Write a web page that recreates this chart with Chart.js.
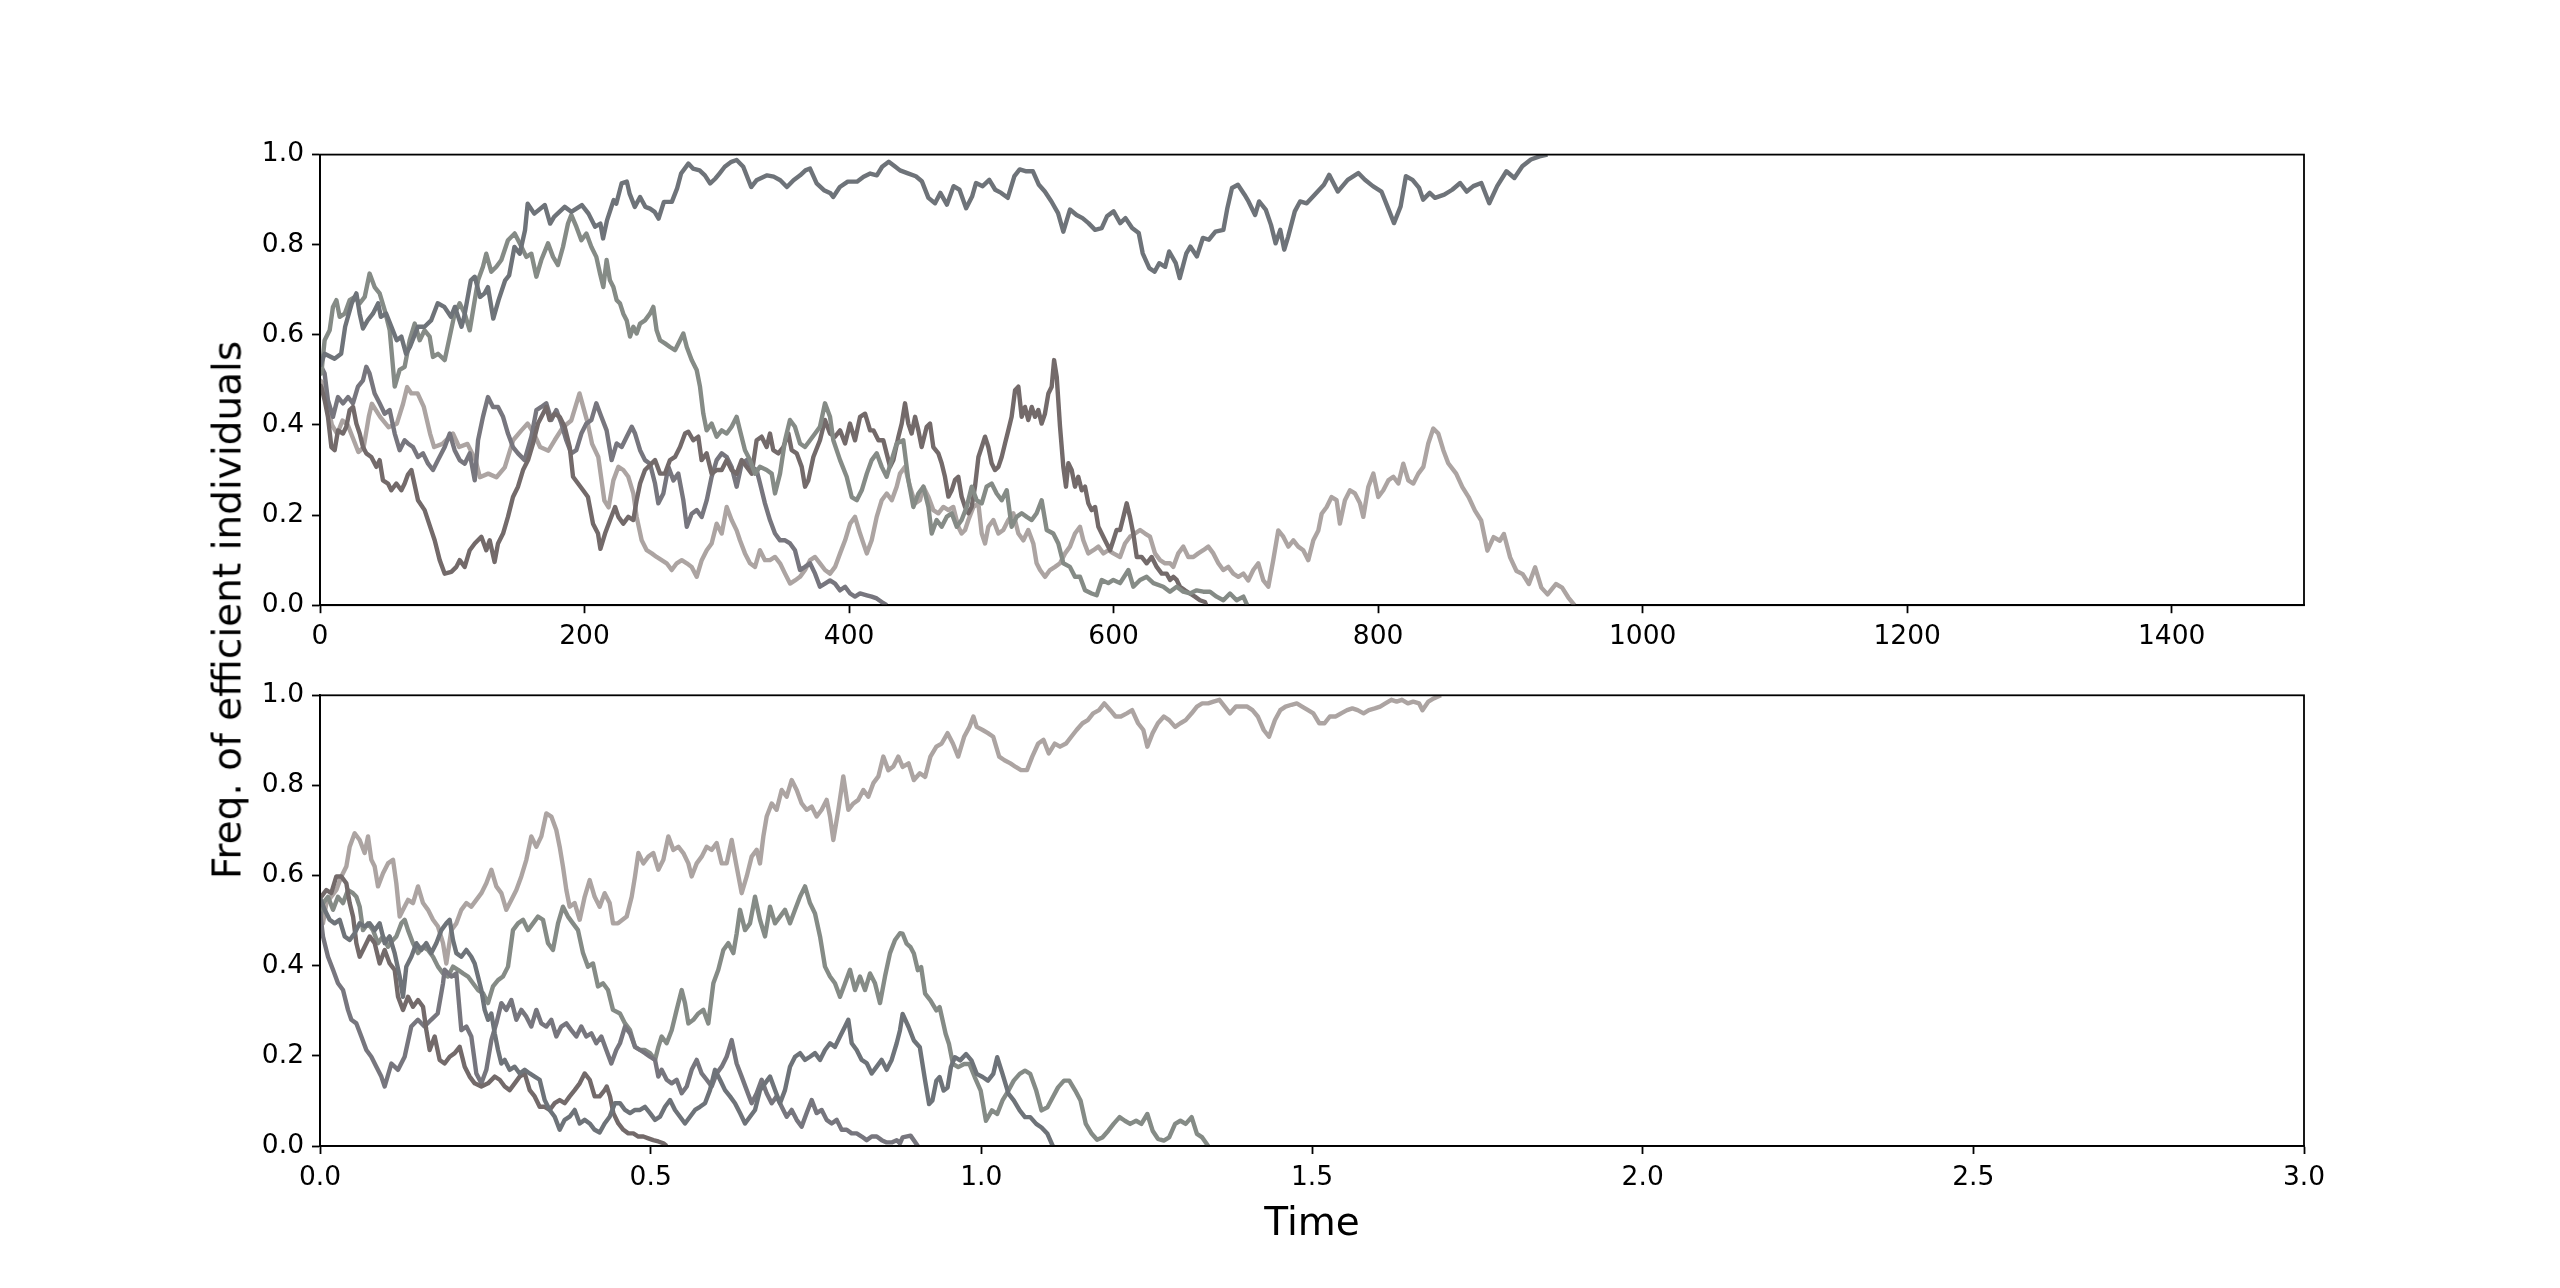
<!DOCTYPE html>
<html>
<head>
<meta charset="utf-8">
<script src="https://cdn.jsdelivr.net/npm/chart.js@4.4.0/dist/chart.umd.min.js"></script>
<style>
html, body { margin: 0; padding: 0; background: #fff; }
body { width: 2560px; height: 1288px; position: relative; overflow: hidden; }
canvas { position: absolute; left: 0; }
#top { top: 0; }
#bottom { top: 670px; }
#ylab {
    position: absolute; left: 227px; top: 610px;
    transform: translate(-50%, -50%) rotate(-90deg);
    font-family: 'DejaVu Sans'; font-size: 39px; line-height: 1; white-space: nowrap; color: #000;
}
</style>
</head>
<body>
<canvas id="top" width="2560" height="670"></canvas>
<canvas id="bottom" width="2560" height="618"></canvas>
<div id="ylab">Freq. of efficient individuals</div>
<script>
// ticks
const yTicks = [0, 0.2, 0.4, 0.6, 0.8, 1.0]
const yLabels = ['0.0', '0.2', '0.4', '0.6', '0.8', '1.0']
const topXTicks = [0, 200, 400, 600, 800, 1000, 1200, 1400]
const topXLabels = ['0', '200', '400', '600', '800', '1000', '1200', '1400']
const botXTicks = [0, 0.5, 1.0, 1.5, 2.0, 2.5, 3.0]
const botXLabels = ['0.0', '0.5', '1.0', '1.5', '2.0', '2.5', '3.0']

// top panel, [time, freq]
const topSlate = [[0,.53],[3.5,.558],[11,.547],[16,.558],[19,.618],[24,.670],[27.5,.692],[30,.647],[32.5,.614],[36,.632],[40,.647],[44,.670],[46,.640],[50,.647],[54,.618],[58,.588],[61.5,.596],[65,.558],[68,.573],[72,.603],[74,.618],[79,.618],[84,.632],[89,.670],[94,.662],[99,.640],[102,.662],[107,.618],[109,.640],[114,.721],[117,.729],[121,.684],[124.5,.692],[127,.706],[131,.636],[135,.677],[140,.721],[143,.732],[147,.795],[151,.780],[155,.832],[157,.891],[162,.869],[170,.888],[174,.847],[177,.862],[185,.884],[190,.873],[198,.888],[203,.869],[208,.840],
[212,.847],[214,.814],[217,.854],[222,.899],[224,.891],[228,.936],[232,.940],[234,.914],[238,.884],[242,.906],[246,.884],[249.5,.880],[253,.873],[256,.858],[260,.895],[266,.895],[270,.925],[273,.958],[278.5,.980],[282,.969],[287,.965],[291,.954],[295,.936],[299,.947],[302,.958],[306,.973],[311,.984],[315,.988],[320,.973],[324,.943],[326,.928],[330,.943],[338,.954],[343,.951],[348,.943],[353,.928],[358,.943],[363,.954],[367,.965],[370.5,.969],[375.5,.936],[381,.921],[386,.914],[388,.906],[393,.928],[399,.940],[406,.940],[411,.951],[416,.958],[421,.954],[425,.973],[430,.984],[435,.973],[438.5,.965],
[444,.959],[450.5,.952],[455,.941],[460,.904],[465,.892],[469,.915],[474,.889],[479,.930],[483.5,.922],
[488.5,.881],[493,.907],[496,.937],[501,.930],[506,.944],[510.5,.922],[515,.915],[520,.904],[525,.952],[529,.967],[534,.963],[539,.963],[543.5,.933],[548,.918],[553,.896],[558,.870],[562,.829],[567,.878],[572,.866],[576.5,.859],[581,.848],[586,.833],[591,.837],[595,.863],[600,.874],[605,.848],[609,.859],[614,.837],[619,.826],[622,.781],[627,.748],[631,.740],[634.5,.759],[639,.751],[642,.785],[647,.759],[650,.726],[655,.781],[658,.796],[663,.774],[667.5,.815],[672,.811],[677,.829],[683,.833],[686,.881],[689.5,.926],[694,.933],[699,.911],[702,.896],[707,.866],[710,.896],[715,.878],[719,.844],[722.5,.803],[726,.833],[729,.789],[732,.818],[737,.874],[741,.896],[746,.892],[752,.911],[759,.933],[763,.955],[769.5,.918],[777,.944],[785,.959],[790,.944],[796,.930],[802.5,.918],[807,.885],[812,.848],[817,.885],[821,.952],[826,.944],[831,.926],[834,.900],[839,.915],[843,.904],[850,.911],[856,.922],[862,.937],[867,.918],[872,.930],[878,.937],[884,.892],[890,.930],[897,.963],[903,.948],[909,.974],[915.5,.989],[922,.996],[928,1]]

const topGreen = [[0,.53],[1,.514],[3.5,.588],[7.3,.610],[9.8,.662],[12.4,.677],[14.9,.640],[18.7,.647],[22.4,.677],[26.2,.684],[30,.670],[33.8,.684],[37.5,.736],[41.3,.706],[45.1,.692],[48.9,.655],[52.7,.610],[56.5,.485],[60.2,.522],[64,.529],[67.8,.588],[71.6,.625],[75.4,.588],[79.1,.610],[82.9,.596],[85.4,.551],[89.2,.558],[94.3,.544],[98.1,.596],[101.8,.647],[105.6,.670],[109.4,.647],[113.2,.610],[117,.677],[119.5,.721],[123.2,.751],[125.7,.780],[129.5,.740],[133.3,.751],[137.1,.766],[142.1,.810],[147.2,.825],[151,.803],[156,.773],[159.8,.780],[163.6,.729],[167.3,.766],[172.4,.803],[176.2,.773],[179.9,.755],[183.7,.795],[187.5,.847],[190,.866],[193.8,.840],[197.6,.810],[201.4,.825],[205.2,.795],[208.9,.773],
[211.7,.736],[214.2,.706],[216.7,.766],[219.2,.721],[221.8,.706],[224.3,.677],[226.8,.670],[229.3,.647],[231.9,.632],[234.4,.596],[236.9,.618],[239.4,.603],[242,.625],[245.7,.632],[249.5,.647],[252,.662],[254.5,.610],[257.1,.588],[260.8,.581],[264.6,.573],[268.4,.566],[272.2,.588],[274.7,.603],[277.3,.573],[281,.544],[284.8,.522],[287.3,.485],[289.8,.425],[292.3,.388],[296.1,.403],[299.9,.374],[303.7,.388],[307.5,.381],[311.2,.396],[315,.418],[317.5,.388],[321.3,.344],[325.1,.322],[328.9,.292],[332.6,.307],[337.7,.300],[341.5,.292],[344,.248],[347.8,.292],[351.6,.366],[355.3,.411],[359.1,.396],[362.9,.359],[366.7,.351],[370.5,.366],[374.3,.381],[378,.396],[381.8,.448],[385.6,.418],[388.1,.366],[393.2,.322],[398.2,.285],[402,.240],[405.8,.233],[409.6,.255],[413.4,.292],[417.1,.322],[420.9,.337],[424.7,.307],[428.4,.285],[432.2,.322],[436,.359],
[441,.366],[444.8,.278],[448.6,.218],[452.4,.248],[456.2,.263],[460,.218],[462.5,.159],[466.2,.189],[470,.174],[473.8,.196],[477.6,.204],[481.4,.174],[485.1,.189],[488.9,.218],[492.7,.263],[496.5,.233],[500.3,.226],[504,.263],[507.8,.270],[511.6,.248],[515.4,.233],[519.2,.255],[522.9,.174],[526.7,.196],[530.5,.204],[534.3,.196],[538.1,.189],[541.8,.204],[545.6,.233],[549.4,.167],[554.4,.159],[558.2,.137],[562,.093],[567,.085],[570.8,.063],[574.6,.063],[578.4,.033],[583.4,.026],[587.2,.022],[591,.056],[596,.049],[599.8,.056],[604.9,.049],[611.2,.078],[614.9,.041],[620,.056],[625,.063],[630.1,.049],
[637.6,.041],[642.6,.030],[647.7,.041],[652.7,.030],[657.7,.026],[662.8,.033],[667.8,.030],[672.9,.030],[677.9,.019],[683,.011],[688,.026],[693,.011],[698.1,.019],[701,0]]

const topBrown = [[0,.49],[1,.484],[3.5,.455],[6,.418],[8.6,.351],[11.1,.344],[13.6,.388],[17.4,.381],[19.9,.396],[22.4,.433],[25,.440],[27.5,.403],[30,.381],[32.5,.351],[35,.337],[38.8,.329],[42.6,.307],[45.1,.322],[47.6,.277],[51.4,.270],[53.9,.255],[57.7,.270],[61.5,.255],[64,.270],[66.5,.29],[69.1,.300],[74.1,.233],[79.1,.211],[84.2,.166],[86.7,.144],[90.5,.100],[94.3,.070],[99.3,.074],[103.1,.085],[105.6,.100],[109.4,.085],[113.2,.122],[117,.137],[122,.152],[125.7,.122],[128.3,.144],[132,.096],[134.6,.137],[138.4,.159],[142.1,.196],[145.9,.240],[149.7,.263],[153.5,.300],[157.3,.322],[161.1,.359],[164.8,.403],[168.6,.425],[171.1,.440],[173.6,.411],[177.4,.425],[181.2,.418],[185,.396],[188.8,.351],[191.3,.285],[195.1,.270],[198.9,.255],[202.6,.240],[206.4,.181],[210.2,.159],
[212,.125],[215.5,.159],[219.3,.189],[223.1,.218],[225.6,.196],[229.3,.181],[233.1,.196],[236.9,.189],[239.4,.233],[242,.270],[245.7,.300],[249.5,.311],[253.3,.322],[257.1,.292],[260.8,.292],[264.6,.322],[268.4,.329],[272.2,.351],[276,.381],[278.5,.385],[282.2,.366],[286,.374],[288.5,.322],[292.3,.337],[296.1,.292],[299.9,.300],[303.7,.300],[307.5,.322],[311.2,.300],[315,.292],[318.8,.322],[322.6,.307],[326.4,.292],[330.1,.366],[333.9,.374],[337.7,.351],[340.2,.381],[342.7,.344],[346.5,.337],[350.3,.351],[354.1,.381],[356.6,.344],[360.4,.337],[364.2,.307],[366.7,.263],[369.2,.277],[373,.329],[378,.366],[381.8,.411],[385.6,.381],[389.4,.374],[393.2,.388],[397,.359],[400.7,.403],[404.5,.366],[408.3,.418],[412.1,.425],[415.9,.388],[418.4,.388],[422.2,.366],
[425.9,.366],[428.4,.337],[431,.307],[433.5,.322],[437.3,.374],[439.8,.403],[442.3,.448],[444.8,.403],[447.3,.381],[449.9,.418],[452.4,.388],[454.9,.351],[458.7,.396],[461.2,.403],[463.7,.351],[467.5,.337],[470,.315],[472.5,.285],[475.1,.241],[477.6,.255],[480.1,.278],[482.6,.285],[485.1,.241],[487.7,.218],[490.2,.204],[492.7,.218],[495.2,.263],[497.8,.329],[500.3,.351],[502.8,.374],[505.3,.351],[507.8,.315],[510.3,.300],[512.9,.307],[515.4,.329],[517.9,.359],[520.4,.388],[522.9,.418],[525.5,.477],[528,.485],[530.5,.418],[533,.440],[535.5,.411],[538.1,.440],[540.6,.418],[543.1,.433],[545.6,.403],[548.1,.425],[550.7,.470],[553.2,.485],[555,.544],[557,.507],[559.5,.396],[562,.307],[564,.263],[565.8,.315],[568.3,.300],[570.8,.263],[573.3,.285],[575.9,.255],[578.4,.263],[580.9,.226],[583.4,.211],[586,.218],[588.5,.174],[591,.159],[593.5,.144],[597.3,.122],[599.8,.144],[602.3,.167],[604.9,.167],[607.4,.196],[609.9,.226],[612.4,.196],[614.9,.159],[617.5,.107],[621.2,.107],[625,.093],[628.8,.107],[632.6,.085],[636.4,.070],[640.1,.070],[642.7,.056],[645.2,.063],[647.7,.056],[650.2,.041],[654,.033],[657.7,.026],[661.5,.019],[665.3,.011],[669.1,.007],[670,0]]

const topPink = [[0,.50],[3,.49],[6,.44],[9,.40],[13,.38],[17,.41],[21,.40],[25,.37],[29,.34],[33,.35],[37,.42],[39.2,.447],[45.5,.418],[51.8,.395],[58.1,.403],[62.8,.447],[65.9,.484],[69.1,.470],[73.8,.470],[78.5,.440],[83.2,.381],[86.3,.351],[92.6,.358],[100.5,.381],[105.2,.351],[111.5,.358],[117.7,.321],[120.9,.284],[127.2,.292],[133.4,.284],[139.7,.306],[146,.366],[152.3,.388],[157,.403],[161.7,.381],[166.4,.351],[172.7,.343],[177.4,.366],[183.7,.395],[190,.410],[196.2,.470],[202.5,.403],[205.7,.358],[210.4,.329],
[215,.232],[218.2,.217],[221.8,.277],[225.6,.307],[229.3,.300],[233.1,.285],[236.9,.248],[239.4,.196],[243.2,.144],[247,.122],[250.8,.115],[254.5,.107],[258.3,.100],[262.1,.093],[265.9,.078],[269.7,.093],[273.5,.100],[277.3,.093],[281,.085],[284.8,.063],[288.6,.100],[292.4,.122],[296.1,.137],[299.9,.181],[303.7,.159],[307.5,.218],[311.2,.189],[315,.166],[317.5,.144],[321.3,.115],[325.1,.093],[328.9,.085],[332.6,.122],[336.4,.100],[340.2,.100],[344,.107],[347.8,.093],[351.6,.070],[355.4,.048],[359.1,.055],[362.9,.063],[366.7,.078],[370.5,.100],[374.3,.107],[378,.093],[381.8,.078],[385.6,.070],[389.4,.085],[393.2,.115],[397,.144],[400.8,.181],[404.5,.196],[408.3,.159],[413.4,.115],[417.1,.144],[420.9,.196],[424.7,.233],[428.5,.248],[432.3,.233],[436,.263],[438.5,.292],
[442.3,.307],[446.1,.263],[449.9,.226],[453.6,.233],[456.2,.263],[459.9,.241],[463.7,.211],[467.5,.204],[471.3,.218],[475.1,.211],[478.8,.218],[482.6,.174],[485.1,.159],[487.7,.167],[490.2,.189],[494,.218],[497.7,.226],[500.3,.159],[502.8,.137],[505.3,.174],[509.1,.189],[512.9,.159],[516.6,.167],[520.4,.189],[524.2,.204],[528,.159],[531.8,.144],[535.5,.167],[539.3,.137],[541.8,.093],[544.4,.078],[548.1,.063],[551.9,.078],[555.7,.085],[559.5,.093],[563.3,.115],[567,.130],[570.8,.159],[574.6,.174],[577.1,.144],[580.9,.115],[584.7,.122],[588.5,.130],[592.3,.115],[596,.122],[599.8,.115],[604.9,.107],[608.6,.137],[612.4,.152],[616.2,.159],[620,.167],[623.8,.159],[627.5,.152],[631.3,.115],[635.1,.100],[638.9,.093],[642.7,.093],
[645.1,.085],[648.9,.115],[652.7,.130],[656.5,.107],[660.3,.107],[664,.115],[667.8,.122],[671.6,.130],[675.4,.115],[679.2,.093],[682.9,.078],[686.7,.085],[690.5,.070],[694.3,.063],[698.1,.070],[701.8,.055],[705.6,.078],[709.4,.093],[713.2,.055],[717,.041],[720.7,.100],[724.5,.166],[728.3,.152],[732.1,.130],[735.9,.144],[739.6,.130],[743.4,.122],[747.2,.100],[751,.144],[754.8,.166],[757.3,.203],[761.1,.218],[764.8,.240],[768.6,.233],[771.1,.181],[774.9,.233],[778.7,.255],[782.5,.248],[786.3,.226],[788.8,.196],[792.6,.263],[796.4,.292],[800.1,.240],[803.9,.255],[807.7,.277],[811.5,.285],[815.3,.270],[819,.314],[822.8,.277],[826.6,.270],[830.4,.292],[834.2,.307],[837.9,.359],[841.7,.392],[845.5,.381],[849.3,.344],[853,.315],
[859,.292],[863.7,.262],[868.4,.240],[873.2,.210],[877.9,.188],[882.6,.121],[887.3,.151],[892,.143],[895.1,.158],[899.8,.106],[904.6,.076],[909.3,.069],[914,.047],[918.7,.084],[923.4,.039],[928.1,.024],[934.4,.047],[939.1,.039],[943.8,.017],[948.5,0]]

const topPurple = [[0,.53],[1,.529],[3.5,.514],[6,.455],[9.8,.418],[13.6,.462],[17.4,.448],[21.2,.462],[24.9,.448],[28.7,.485],[32.5,.499],[35,.529],[37.5,.514],[41.3,.470],[45.1,.448],[48.9,.425],[52.7,.433],[56.5,.381],[60.2,.344],[64,.366],[66.5,.359],[70.3,.351],[74.1,.329],[77.9,.337],[81.7,.314],[85.4,.300],[89.2,.322],[94.3,.351],[98.1,.381],[101.8,.344],[105.6,.322],[109.4,.314],[113.2,.337],[117,.277],[119.5,.366],[123.2,.418],[127,.462],[130.8,.440],[134.6,.440],[138.4,.418],[142.1,.381],[145.9,.351],[149.7,.337],[154.7,.322],[159.8,.374],[163.6,.433],[167.3,.440],[171.1,.448],[174.9,.411],[178.7,.433],[182.5,.403],[186.2,.366],[190,.337],[193.8,.344],[197.6,.381],[201.4,.403],[205.2,.411],[208.9,.448],
[212.5,.42],[216.7,.388],[220.5,.322],[224.3,.359],[228.1,.351],[231.9,.374],[235.7,.396],[238.2,.381],[242,.344],[245.7,.322],[249.5,.314],[253.3,.270],[255.8,.226],[259.6,.248],[263.4,.307],[267.2,.277],[270.9,.292],[274.7,.233],[277.3,.174],[281,.203],[284.8,.211],[288.6,.196],[292.4,.233],[296.1,.285],[299.9,.322],[303.7,.337],[307.5,.329],[311.2,.307],[315,.263],[318.8,.314],[322.6,.322],[326.4,.307],[330.1,.300],[332.7,.270],[336.4,.226],[340.2,.189],[344,.159],[347.8,.144],[351.6,.144],[355.4,.137],[359.1,.122],[362.9,.078],[366.7,.085],[370.5,.093],[374.3,.070],[378,.041],[381.8,.048],[385.6,.055],[389.4,.048],[393.2,.033],[397,.041],[400.8,.026],[404.5,.019],[408.3,.026],[413.4,.022],[417.1,.019],[420.9,.015],[424.7,.007],[428.5,0]]

// bottom panel, [time, freq]
const botPink = [[0,.5],[0.0045,.494],[0.0096,.539],[0.017,.553],[0.0247,.568],[0.0323,.598],[0.0398,.620],[0.0449,.664],[0.0524,.694],[0.06,.679],[0.0675,.650],[0.0726,.687],[0.0776,.635],[0.0827,.620],[0.0877,.576],[0.0953,.605],[0.1028,.627],[0.1104,.635],[0.1154,.583],[0.1205,.509],[0.1255,.524],[0.1331,.546],[0.1406,.539],[0.1482,.576],[0.1558,.539],[0.1633,.524],[0.1709,.502],[0.1784,.487],[0.186,.450],[0.191,.405],[0.1986,.479],[0.2062,.494],[0.2137,.524],[0.2213,.539],[0.2288,.531],[0.2364,.546],[0.244,.561],[0.2515,.583],[0.2591,.613],[0.2666,.576],[0.2742,.561],[0.2817,.524],[0.2893,.546],[0.2969,.568],[0.3044,.598],[0.312,.635],[0.3195,.687],[0.3271,.664],[0.3347,.687],[0.3422,.738],[0.3498,.731],[0.3573,.701],[0.3624,.664],[0.3674,.620],[0.3725,.568],[0.3775,.531],[0.3851,.539],[0.3927,.502],[0.4002,.553],[0.4078,.590],[0.4153,.553],[0.4229,.531],[0.4304,.561],[0.438,.539],[0.4431,.494],[0.4506,.494],
[0.4637,.509],[0.4713,.553],[0.4763,.598],[0.4814,.650],[0.4889,.627],[0.4965,.642],[0.504,.650],[0.5116,.613],[0.5192,.635],[0.5267,.687],[0.5343,.657],[0.5418,.664],[0.5494,.650],[0.557,.627],[0.562,.598],[0.5696,.627],[0.5771,.642],[0.5847,.664],[0.5922,.657],[0.5998,.672],[0.6074,.627],[0.6149,.627],[0.6225,.679],[0.63,.620],[0.6376,.561],[0.6452,.598],[0.6527,.642],[0.6603,.657],[0.6653,.627],[0.6704,.687],[0.6754,.731],[0.683,.760],[0.6905,.746],[0.6981,.790],[0.7057,.775],[0.7132,.812],[0.7208,.790],[0.7283,.760],[0.7359,.746],[0.7435,.753],[0.751,.731],[0.7586,.746],[0.7661,.768],[0.7712,.731],[0.7762,.679],[0.7838,.746],[0.7913,.820],[0.7989,.746],[0.8065,.760],[0.814,.768],[0.8216,.790],[0.8291,.775],[0.8367,.805],[0.8443,.820],[0.8518,.864],[0.8594,.834],[0.8669,.842],[0.8745,.864],
[0.881,.841],[0.890,.849],[0.898,.812],[0.907,.827],[0.915,.819],[0.923,.864],[0.932,.886],[0.940,.893],[0.949,.916],[0.957,.893],[0.965,.864],[0.974,.908],[0.982,.930],[0.988,.953],[0.993,.930],[1.002,.923],[1.010,.916],[1.018,.908],[1.027,.864],[1.035,.856],[1.044,.849],[1.052,.841],[1.060,.834],[1.069,.834],[1.077,.864],[1.086,.893],[1.094,.901],[1.102,.871],[1.111,.893],[1.119,.886],[1.128,.893],[1.136,.908],[1.144,.923],[1.153,.938],[1.161,.945],[1.169,.960],[1.178,.967],[1.186,.982],[1.195,.967],[1.203,.953],[1.211,.953],[1.220,.960],[1.228,.967],[1.237,.938],[1.245,.923],[1.251,.886],[1.259,.916],[1.267,.938],[1.276,.953],[1.284,.945],[1.293,.930],[1.301,.938],[1.309,.945],[1.318,.960],[1.326,.975],[1.334,.982],[1.343,.982],[1.351,.986],[1.360,.990],[1.368,.975],[1.376,.960],[1.385,.975],[1.393,.975],[1.402,.975],[1.410,.967],[1.418,.953],[1.427,.923],[1.435,.908],[1.444,.945],[1.452,.967],[1.460,.975],[1.469,.979],[1.477,.982],[1.485,.975],[1.494,.967],[1.502,.960],[1.511,.938],[1.519,.938],[1.527,.953],[1.536,.953],[1.544,.960],[1.553,.967],[1.561,.971],[1.569,.967],[1.578,.960],[1.586,.967],[1.595,.971],[1.603,.975],[1.611,.982],[1.620,.990],[1.628,.986],[1.636,.990],[1.645,.982],[1.653,.986],[1.662,.982],[1.667,.967],[1.676,.986],[1.684,.993],[1.695,1]]

const botGreen = [[0,.5],[0.0045,.539],[0.0121,.553],[0.0197,.524],[0.0272,.553],[0.0348,.539],[0.0423,.568],[0.0499,.561],[0.055,.553],[0.06,.531],[0.065,.479],[0.0726,.494],[0.0801,.479],[0.0877,.450],[0.0953,.465],[0.1028,.442],[0.1104,.457],[0.1154,.465],[0.123,.494],[0.128,.502],[0.1331,.479],[0.1406,.450],[0.1482,.428],[0.1558,.442],[0.1633,.435],[0.1709,.420],[0.1784,.398],[0.186,.383],[0.1935,.376],[0.2011,.398],[0.2087,.391],[0.2162,.383],[0.2238,.376],[0.2313,.361],[0.2389,.346],[0.2465,.339],[0.254,.317],[0.2616,.354],[0.2692,.368],[0.2767,.376],[0.2843,.398],[0.2918,.479],[0.2994,.494],[0.307,.502],[0.3145,.479],[0.3221,.494],[0.3296,.509],[0.3372,.502],[0.3448,.450],[0.3523,.435],[0.3599,.494],[0.3674,.531],[0.375,.509],[0.3825,.494],[0.3901,.479],[0.3977,.428],[0.4052,.398],[0.4128,.405],[0.4204,.354],[0.4279,.361],[0.4355,.346],[0.443,.302],
[0.4536,.294],[0.4612,.272],[0.4688,.257],[0.4763,.220],[0.4839,.213],[0.4914,.213],[0.499,.206],[0.5066,.191],[0.5116,.220],[0.5166,.243],[0.5242,.228],[0.5318,.257],[0.5393,.302],[0.5469,.346],[0.5519,.317],[0.557,.272],[0.5645,.280],[0.5721,.294],[0.5797,.302],[0.5872,.272],[0.5948,.361],[0.6023,.391],[0.6099,.435],[0.6175,.450],[0.625,.428],[0.6301,.472],[0.6351,.524],[0.6427,.479],[0.6502,.494],[0.6578,.553],[0.6653,.502],[0.6729,.465],[0.6805,.531],[0.688,.494],[0.6956,.509],[0.7031,.524],[0.7107,.494],[0.7183,.524],[0.7258,.553],[0.7334,.576],[0.7409,.539],[0.7485,.516],[0.7561,.465],[0.7636,.398],[0.7712,.376],[0.7787,.361],[0.7863,.331],[0.7939,.361],[0.8014,.391],[0.809,.346],[0.8165,.376],[0.8241,.346],[0.8317,.383],[0.8392,.361],[0.8468,.317],[0.8543,.376],[0.8619,.428],[0.8695,.457],[0.877,.472],
[0.881,.471],[0.887,.449],[0.893,.441],[0.898,.427],[0.904,.390],[0.909,.397],[0.915,.338],[0.923,.323],[0.932,.301],[0.937,.308],[0.946,.249],[0.951,.227],[0.957,.182],[0.965,.175],[0.974,.182],[0.982,.182],[0.990,.153],[0.999,.123],[1.007,.056],[1.016,.079],[1.024,.071],[1.032,.101],[1.041,.123],[1.049,.145],[1.058,.160],[1.066,.167],[1.074,.160],[1.083,.123],[1.091,.079],[1.100,.086],[1.108,.108],[1.116,.130],[1.125,.145],[1.133,.145],[1.142,.123],[1.150,.101],[1.158,.049],[1.167,.027],[1.175,.014],[1.183,.019],[1.192,.034],[1.200,.049],[1.209,.064],[1.217,.056],[1.225,.049],[1.234,.056],[1.242,.049],[1.251,.071],[1.259,.034],[1.267,.016],[1.276,.012],[1.284,.019],[1.293,.049],[1.301,.056],[1.309,.049],[1.318,.064],[1.326,.027],[1.334,.019],[1.343,0]]

const botSlate = [[0,.55],[0.0071,.524],[0.0146,.502],[0.0222,.494],[0.0297,.502],[0.0373,.465],[0.0449,.457],[0.0524,.472],[0.06,.494],[0.0675,.487],[0.0751,.494],[0.0827,.479],[0.0902,.494],[0.0978,.450],[0.1053,.465],[0.1129,.428],[0.1205,.376],[0.1255,.331],[0.1305,.398],[0.1381,.420],[0.1457,.450],[0.1532,.435],[0.1608,.450],[0.1683,.428],[0.1759,.450],[0.1835,.479],[0.191,.494],[0.1961,.502],[0.2011,.457],[0.2062,.428],[0.2137,.420],[0.2213,.435],[0.2288,.420],[0.2339,.405],[0.2389,.376],[0.244,.346],[0.249,.302],[0.2541,.280],[0.2591,.294],[0.2642,.250],[0.2692,.213],[0.2742,.183],[0.2793,.191],[0.2868,.169],[0.2944,.176],[0.3019,.161],[0.3095,.169],[0.3171,.161],[0.3246,.154],[0.3322,.147],[0.3397,.102],[0.3473,.080],[0.3549,.065],[0.3624,.036],[0.37,.058],[0.3775,.065],[0.3851,.080],[0.3927,.050],[0.4002,.058],[0.4078,.050],[0.4153,.036],[0.4229,.030],[0.4304,.050],[0.438,.065],
[0.446,.095],[0.4536,.095],[0.4612,.080],[0.4688,.073],[0.4763,.080],[0.4839,.080],[0.4914,.087],[0.499,.073],[0.5066,.058],[0.5141,.065],[0.5217,.087],[0.5293,.102],[0.5368,.080],[0.5444,.065],[0.5519,.050],[0.5595,.065],[0.5671,.080],[0.5746,.087],[0.5822,.095],[0.5897,.124],[0.5973,.169],[0.6049,.147],[0.6124,.124],[0.62,.110],[0.6275,.095],[0.6351,.073],[0.6427,.050],[0.6502,.065],[0.6578,.080],[0.6653,.124],[0.6729,.139],[0.6805,.154],[0.688,.124],[0.6956,.095],[0.7031,.124],[0.7107,.176],[0.7183,.198],[0.7258,.206],[0.7334,.191],[0.7409,.198],[0.7485,.206],[0.7561,.191],[0.7636,.213],[0.7712,.228],[0.7787,.220],[0.7863,.243],[0.7939,.265],[0.7989,.280],[0.804,.228],[0.8115,.213],[0.8191,.191],[0.8266,.184],[0.8342,.161],[0.8418,.176],[0.8493,.191],[0.8569,.169],[0.8644,.191],[0.872,.228],[0.877,.257],
[0.881,.293],[0.890,.264],[0.898,.234],[0.907,.219],[0.915,.145],[0.921,.093],[0.926,.101],[0.932,.145],[0.937,.153],[0.943,.123],[0.949,.130],[0.954,.175],[0.960,.197],[0.968,.190],[0.977,.204],[0.985,.190],[0.993,.160],[1.002,.153],[1.010,.145],[1.018,.160],[1.024,.197],[1.032,.160],[1.041,.116],[1.049,.101],[1.058,.079],[1.066,.064],[1.074,.064],[1.083,.049],[1.091,.041],[1.100,.027],[1.108,0]]

const botPurple = [[0,.52],[0.0045,.465],[0.0121,.420],[0.0197,.391],[0.0272,.361],[0.0348,.346],[0.0423,.302],[0.0474,.280],[0.055,.272],[0.0625,.243],[0.0701,.213],[0.0776,.198],[0.0852,.176],[0.0927,.154],[0.0978,.132],[0.1079,.183],[0.118,.169],[0.128,.198],[0.138,.265],[0.148,.280],[0.158,.265],[0.168,.280],[0.178,.294],[0.186,.361],[0.1885,.391],[0.1986,.376],[0.2062,.383],[0.2137,.257],[0.2213,.265],[0.2288,.243],[0.2364,.161],[0.244,.139],[0.2515,.169],[0.2591,.235],[0.2666,.272],[0.2742,.317],[0.2817,.302],[0.2893,.324],[0.2969,.280],[0.3044,.302],[0.312,.287],[0.3195,.265],[0.3271,.302],[0.3347,.272],[0.3422,.265],[0.3498,.280],[0.3573,.243],[0.3649,.265],[0.3725,.272],[0.38,.257],[0.3876,.243],[0.3951,.265],[0.4027,.243],[0.4103,.250],[0.4178,.228],[0.4254,.243],[0.4329,.213],[0.4405,.183],[0.448,.213],
[0.4536,.228],[0.4612,.265],[0.4688,.250],[0.4763,.220],[0.4839,.213],[0.4914,.206],[0.499,.198],[0.5066,.191],[0.5116,.154],[0.5166,.169],[0.5242,.147],[0.5318,.139],[0.5393,.147],[0.5469,.117],[0.5545,.132],[0.562,.169],[0.5696,.191],[0.5771,.161],[0.5847,.147],[0.5923,.132],[0.5998,.161],[0.6074,.176],[0.6149,.198],[0.6225,.235],[0.63,.183],[0.6376,.154],[0.6452,.124],[0.6527,.095],[0.6603,.117],[0.6678,.147],[0.6754,.117],[0.683,.095],[0.6905,.110],[0.6981,.087],[0.7057,.065],[0.7132,.080],[0.7208,.058],[0.7283,.043],[0.7359,.073],[0.7435,.102],[0.751,.073],[0.7586,.080],[0.7661,.058],[0.7737,.050],[0.7813,.058],[0.7888,.036],[0.7964,.036],[0.8039,.028],[0.8115,.028],[0.8191,.021],[0.8266,.013],[0.8342,.021],[0.8418,.021],[0.8493,.013],[0.8569,.008],[0.8644,.008],[0.872,.013],[0.877,.006],[0.881,.019],[0.893,.023],[0.904,0]]

const botBrown = [[0,.55],[0.002,.553],[0.0096,.568],[0.017,.561],[0.0247,.598],[0.0323,.598],[0.0398,.583],[0.0449,.539],[0.05,.509],[0.055,.450],[0.06,.420],[0.0675,.442],[0.0751,.465],[0.0827,.450],[0.0902,.405],[0.0978,.435],[0.1053,.405],[0.1129,.391],[0.118,.331],[0.1255,.302],[0.1331,.331],[0.1406,.309],[0.1482,.324],[0.1558,.309],[0.1608,.257],[0.1658,.213],[0.1734,.243],[0.1809,.191],[0.1885,.183],[0.1961,.198],[0.2037,.206],[0.2112,.220],[0.2188,.176],[0.2263,.154],[0.2339,.139],[0.244,.132],[0.2541,.139],[0.2642,.154],[0.2717,.147],[0.2793,.132],[0.2868,.124],[0.2944,.139],[0.3019,.154],[0.3095,.161],[0.3171,.124],[0.3246,.110],[0.3322,.087],[0.3397,.087],[0.3473,.080],[0.3549,.095],[0.3624,.102],[0.37,.095],[0.3775,.110],[0.3851,.124],[0.3927,.139],[0.4002,.161],[0.4078,.147],[0.4153,.110],[0.4229,.110],[0.4304,.124],[0.4335,.132],[0.4385,.110],[0.4436,.073],[0.4511,.050],[0.4587,.036],[0.4662,.028],[0.4738,.028],[0.4814,.021],[0.4889,.021],[0.4965,.017],[0.504,.013],[0.5116,.010],[0.5192,.006],[0.5242,0]]

const colSlate = '#6e7379'
const colGreen = '#858b86'
const colBrown = '#736a6a'
const colPink = '#aca4a2'
const colPurple = '#77767e'

const fontTick = { family: 'DejaVu Sans', size: 26.5 }

// draws the four spines on top of the lines
const framePlugin = {
    id: 'frame',
    afterDraw(chart) {
        const a = chart.chartArea
        const ctx = chart.ctx
        ctx.save()
        ctx.strokeStyle = '#000'
        ctx.lineWidth = 1.8
        ctx.strokeRect(a.left, a.top, a.right - a.left, a.bottom - a.top)
        ctx.restore()
    }
}

function line(pairs, color) {
    return {
        data: pairs.map(p => ({ x: p[0], y: p[1] })),
        borderColor: color,
        borderWidth: 4.4,
        pointRadius: 0,
        tension: 0,
        fill: false,
        clip: 0,
        borderJoinStyle: 'round'
    }
}

function axisX(max, ticks, labels, height, title) {
    return {
        type: 'linear', min: 0, max: max,
        grid: { drawOnChartArea: false, drawTicks: true, tickLength: 8, tickWidth: 1.8, tickColor: '#000' },
        border: { display: true, color: '#000', width: 1.8 },
        afterBuildTicks: s => { s.ticks = ticks.map(v => ({ value: v })) },
        ticks: {
            autoSkip: false, maxRotation: 0, padding: 8, color: '#000', font: fontTick,
            callback: (v, i) => labels[i]
        },
        title: title ? { display: true, text: title, color: '#000', padding: 0,
                         font: { family: 'DejaVu Sans', size: 39 } } : { display: false },
        afterFit: s => { s.height = height }
    }
}

function axisY() {
    return {
        type: 'linear', min: 0, max: 1,
        grid: { drawOnChartArea: false, drawTicks: true, tickLength: 8, tickWidth: 1.8, tickColor: '#000' },
        border: { display: true, color: '#000', width: 1.8 },
        afterBuildTicks: s => { s.ticks = yTicks.map(v => ({ value: v })) },
        ticks: {
            autoSkip: false, padding: 8, color: '#000', font: fontTick,
            callback: (v, i) => yLabels[i]
        },
        afterFit: s => { s.width = 320 }
    }
}

function makeChart(id, datasets, xAxis, padding) {
    return new Chart(document.getElementById(id), {
        type: 'line',
        data: { datasets: datasets },
        options: {
            responsive: false,
            animation: false,
            devicePixelRatio: 1,
            parsing: false,
            layout: { padding: padding, autoPadding: false },
            plugins: { legend: { display: false }, tooltip: { enabled: false } },
            scales: { x: xAxis, y: axisY() }
        },
        plugins: [framePlugin]
    })
}

makeChart('top', [
    line(topSlate, colSlate),
    line(topGreen, colGreen),
    line(topBrown, colBrown),
    line(topPurple, colPurple),
    line(topPink, colPink)
], axisX(1500, topXTicks, topXLabels, 64.8, null),
   { top: 154.6, right: 256, bottom: 0, left: 0 })

makeChart('bottom', [
    line(botSlate, colSlate),
    line(botBrown, colBrown),
    line(botPurple, colPurple),
    line(botGreen, colGreen),
    line(botPink, colPink)
], axisX(3, botXTicks, botXLabels, 102.4, 'Time'),
   { top: 25.3, right: 256, bottom: 39.6, left: 0 })
</script>
</body>
</html>
